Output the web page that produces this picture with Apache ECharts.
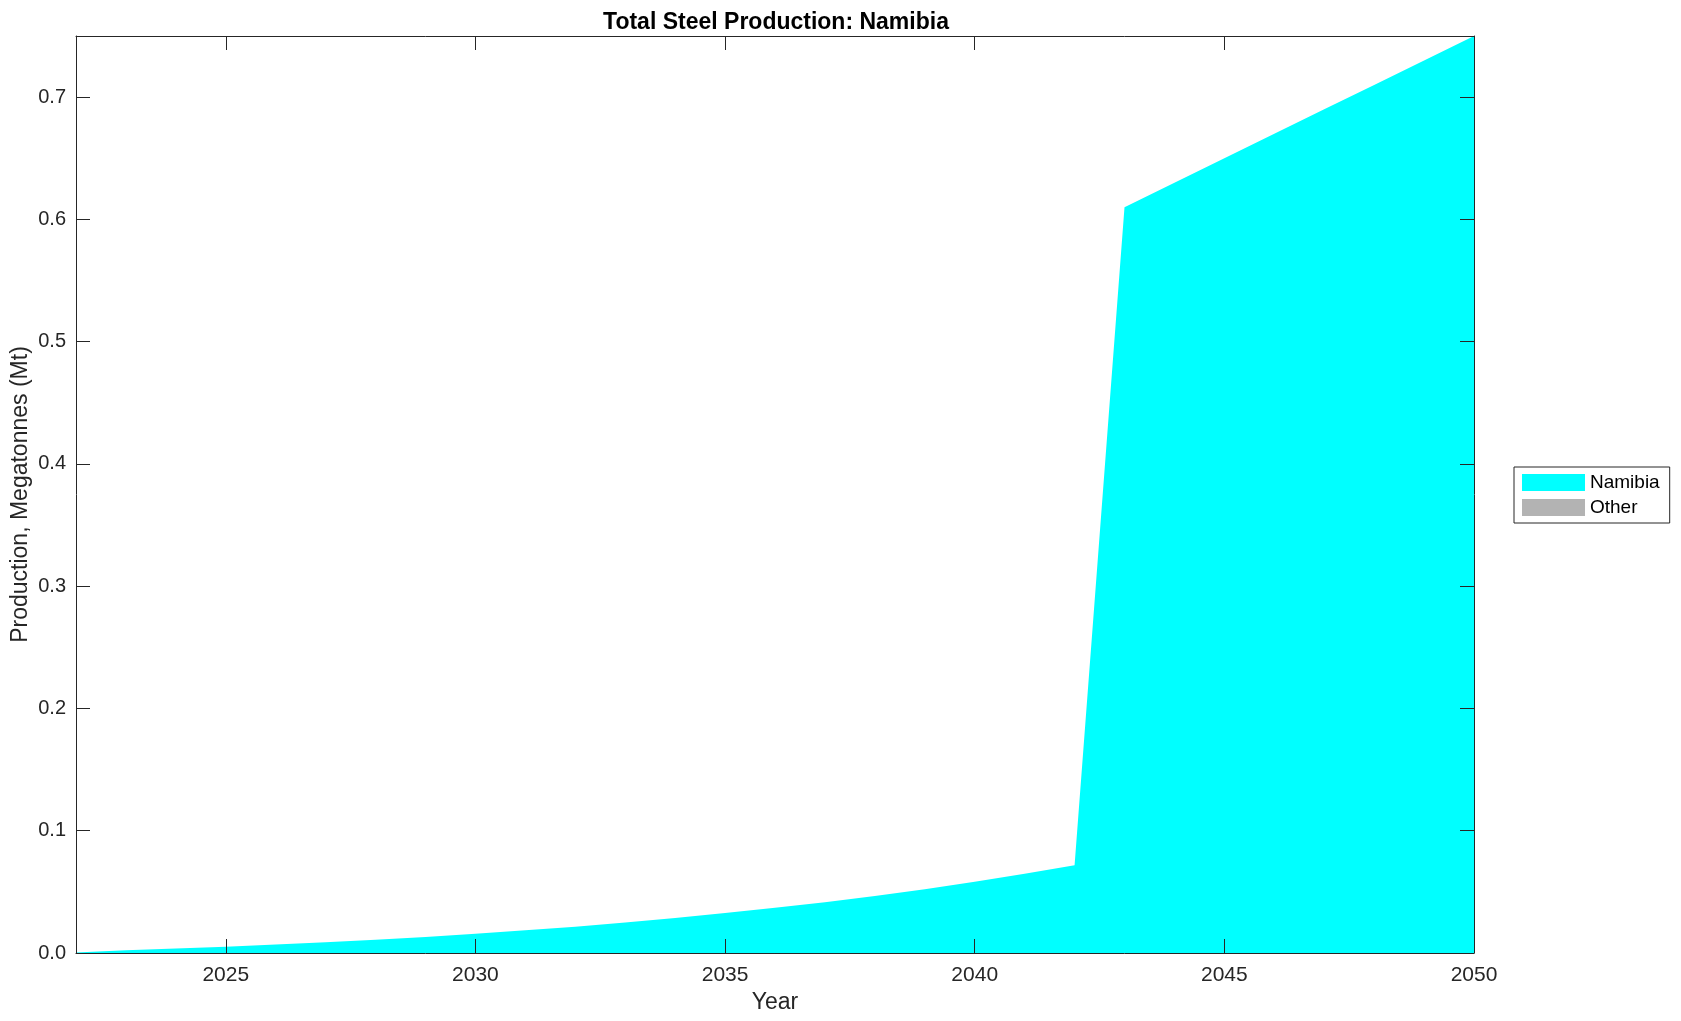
<!DOCTYPE html>
<html>
<head>
<meta charset="utf-8">
<script src="https://cdn.jsdelivr.net/npm/echarts@6/dist/echarts.min.js"></script>
<style>
html,body{margin:0;padding:0;background:#fff;}
#chart{width:1681px;height:1021px;}
</style>
</head>
<body>
<div id="chart"></div>
<script>
// ---- data ----
const years = [2022,2023,2024,2025,2026,2027,2028,2029,2030,2031,2032,2033,2034,2035,2036,2037,2038,2039,2040,2041,2042,2043,2044,2045,2046,2047,2048,2049,2050];
const namibia = [0.0005,0.0022,0.0037,0.0051,0.0069,0.0088,0.0108,0.0131,0.0158,0.0186,0.0215,0.0250,0.0287,0.0327,0.0370,0.0416,0.0466,0.0522,0.0583,0.0648,0.0717,0.610,0.630,0.650,0.670,0.690,0.710,0.730,0.750];
const other = [0,0,0,0,0,0,0,0,0,0,0,0,0,0,0,0,0,0,0,0,0,0,0,0,0,0,0,0,0];
const xTicks = [2025,2030,2035,2040,2045,2050];
const yTicks = [0,0.1,0.2,0.3,0.4,0.5,0.6,0.7];
const seriesNames = ['Namibia','Other'];
const titleText = 'Total Steel Production: Namibia';
const xName = 'Year';
const yName = 'Production, Megatonnes (Mt)';

const FONT = 'Liberation Sans, Arial, Helvetica, sans-serif';
const AX = '#262626';

const pair = arr => years.map((y,i)=>[y,arr[i]]);

const chart = echarts.init(document.getElementById('chart'), null, {renderer:'canvas'});

function xAxisCfg(pos, show){
  return {
    type:'value', position:pos, min:2022, max:2050, z:10,
    name: show ? xName : '', nameLocation:'middle', nameGap:38, nameMoveOverlap:false,
    nameTextStyle:{fontFamily:FONT,fontSize:23,color:AX},
    axisLine:{show:true,onZero:false,lineStyle:{color:AX,width:1}},
    axisTick:{show:true,inside:true,length:14,customValues:xTicks,lineStyle:{color:AX,width:1}},
    axisLabel:{show:show,customValues:xTicks,margin:12,fontFamily:FONT,fontSize:21,color:AX,formatter:v=>String(v)},
    splitLine:{show:false}
  };
}
function yAxisCfg(pos, show){
  return {
    type:'value', position:pos, min:0, max:0.75, z:10,
    name: show ? yName : '', nameLocation:'middle', nameGap:44, nameMoveOverlap:false,
    nameTextStyle:{fontFamily:FONT,fontSize:23,color:AX},
    axisLine:{show:true,onZero:false,lineStyle:{color:AX,width:1}},
    axisTick:{show:true,inside:true,length:14,customValues:yTicks,lineStyle:{color:AX,width:1}},
    axisLabel:{show:show,customValues:yTicks,margin:10,fontFamily:FONT,fontSize:20,color:AX,formatter:v=>v.toFixed(1)},
    splitLine:{show:false}
  };
}

chart.setOption({
  animation:false,
  backgroundColor:'#ffffff',
  title:{
    text:titleText, left:771, textAlign:'center', top:6,
    textStyle:{fontFamily:FONT,fontSize:23,fontWeight:'bold',color:'#000'}
  },
  grid:{left:76, top:36, width:1398, height:917, containLabel:false, outerBoundsMode:'none'},
  legend:{
    orient:'vertical', left:1514, top:467,
    icon:'rect', itemWidth:63, itemHeight:17, itemGap:6,
    padding:[6,10,6,8],
    borderColor:AX, borderWidth:1, backgroundColor:'#fff',
    textStyle:{fontFamily:FONT,fontSize:19,color:'#000',lineHeight:17},
    data:seriesNames
  },
  xAxis:[xAxisCfg('bottom',true), xAxisCfg('top',false)],
  yAxis:[yAxisCfg('left',true), yAxisCfg('right',false)],
  series:[
    {
      name:seriesNames[0], type:'line', stack:'total', xAxisIndex:0, yAxisIndex:0,
      data:pair(namibia), showSymbol:false, symbol:'none',
      color:'#00ffff',
      lineStyle:{width:0,color:'#00ffff'},
      itemStyle:{color:'#00ffff'},
      areaStyle:{color:'#00ffff',opacity:1}
    },
    {
      name:seriesNames[1], type:'line', stack:'total', xAxisIndex:0, yAxisIndex:0,
      data:pair(other), showSymbol:false, symbol:'none',
      color:'#b3b3b3',
      lineStyle:{width:0,color:'#b3b3b3'},
      itemStyle:{color:'#b3b3b3'},
      areaStyle:{color:'#b3b3b3',opacity:1}
    }
  ]
});
</script>
</body>
</html>
